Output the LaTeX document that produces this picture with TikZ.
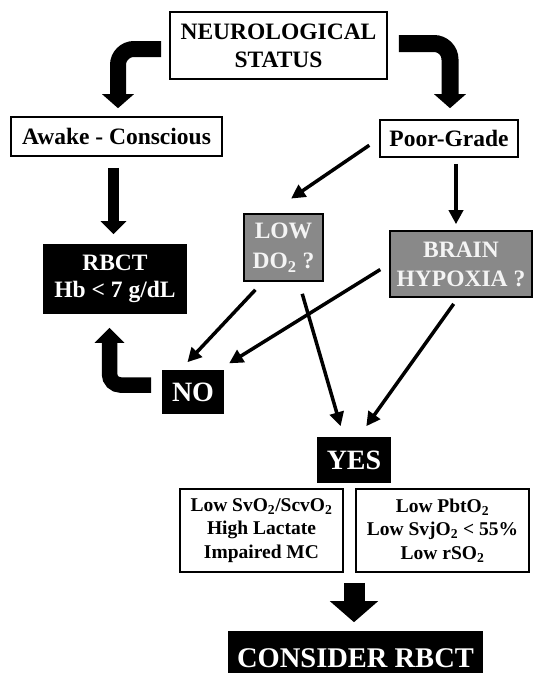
\documentclass[tikz,border=0pt]{standalone}
\usepackage{fontspec}
\setmainfont{Liberation Serif}
\usetikzlibrary{arrows.meta}
\definecolor{boxgray}{RGB}{137,137,137}
\definecolor{paletext}{RGB}{244,244,244}

\begin{document}
\begin{tikzpicture}[x=1pt,y=-1pt,
    base node/.style={draw,line width=1.6pt,inner sep=0pt,align=center,font=\bfseries\fontsize{23.5}{28}\selectfont},
    white node/.style={base node,fill=white},
    black node/.style={base node,fill=black,text=white},
    gray node/.style={base node,fill=boxgray,text=paletext},
    list node/.style={base node,fill=white,font=\bfseries\fontsize{19.5}{23.5}\selectfont},
    thin arrow/.style={line width=3.5pt,-{Triangle[length=14pt,width=14pt]}},
    fat arrow/.style={line width=16pt,rounded corners=16pt,-{Triangle[length=14pt,width=31pt]}}
  ]
  \useasboundingbox (0,0) rectangle (534,673);
  \node[white node,minimum width=217pt,minimum height=67pt] (status) at (278.5,45.5) {NEUROLOGICAL\\STATUS};
  \node[white node,minimum width=211pt,minimum height=39pt] (awake) at (116.5,136.5) {Awake - Conscious};
  \node[white node,minimum width=138pt,minimum height=37pt] (poor) at (449,138.5) {Poor-Grade};
  \node[black node,minimum width=142pt,minimum height=68pt,font=\bfseries\fontsize{23.5}{27}\selectfont] (rbct) at (115,279) {RBCT\\Hb < 7 g/dL};
  \node[gray node,minimum width=79pt,minimum height=67pt,font=\bfseries\fontsize{23.5}{30}\selectfont] (low) at (283.5,247.5) {LOW\\DO\textsubscript{2} ?};
  \node[gray node,minimum width=142pt,minimum height=66pt,font=\bfseries\fontsize{23.5}{29}\selectfont] (brain) at (461,264) {BRAIN\\HYPOXIA ?};
  \node[black node,minimum width=60pt,minimum height=42pt,font=\bfseries\fontsize{28}{30}\selectfont] (no) at (193,392) {NO};
  \node[black node,minimum width=72pt,minimum height=44pt,font=\bfseries\fontsize{28}{30}\selectfont] (yes) at (354,460) {YES};
  \node[list node,minimum width=163pt,minimum height=83pt] (svo) at (261.5,530.5) {Low SvO\textsubscript{2}/ScvO\textsubscript{2}\\High Lactate\\Impaired MC};
  \node[list node,minimum width=173pt,minimum height=83pt] (pbto) at (442.5,530.5) {Low PbtO\textsubscript{2}\\Low SvjO\textsubscript{2} < 55\%\\Low rSO\textsubscript{2}};
  \node[black node,minimum width=253pt,minimum height=52pt,font=\bfseries\fontsize{28.5}{30}\selectfont] (consider) at (355.5,658) {CONSIDER RBCT};

  % big bent arrows
  \draw[fat arrow,shorten >=8pt] ([xshift=-8pt,yshift=-3.5pt]status.west) -| ([xshift=1.5pt]awake.north);
  \draw[fat arrow,line width=17pt,shorten >=11pt] ([xshift=11pt,yshift=2pt]status.east) -| ([xshift=1pt]poor.north);
  \draw[fat arrow,line width=15.5pt,rounded corners=11pt,-{Triangle[length=15pt,width=29pt]},shorten >=14pt] ([xshift=-11pt,yshift=7pt]no.west) -| ([xshift=-5.5pt]rbct.south);
  \draw[line width=11pt,-{Triangle[length=13pt,width=25pt]},shorten <=11pt,shorten >=10pt] ([xshift=-3pt]awake.south) -- ([xshift=-1.5pt]rbct.north);
  \draw[line width=21pt,-{Triangle[length=21pt,width=47pt]},shorten <=10pt,shorten >=9pt] (yes |- svo.south) -- (yes |- consider.north);

  \path[thin arrow]
    (poor.west) edge[shorten <=12pt,shorten >=26pt] (low.112)
    ([xshift=7pt]poor.south) edge[shorten <=6pt,shorten >=6pt] ([xshift=-5pt]brain.north)
    (low.239) edge[shorten <=11pt,shorten >=11pt] (no.121)
    (brain.west) edge[shorten <=10.5pt,shorten >=13pt] (no.41)
    (low.-66) edge[shorten <=12.5pt,shorten >=11.5pt] (yes.114)
    (brain.265) edge[shorten <=7.5pt,shorten >=13.5pt] (yes.79);
\end{tikzpicture}
\end{document}
